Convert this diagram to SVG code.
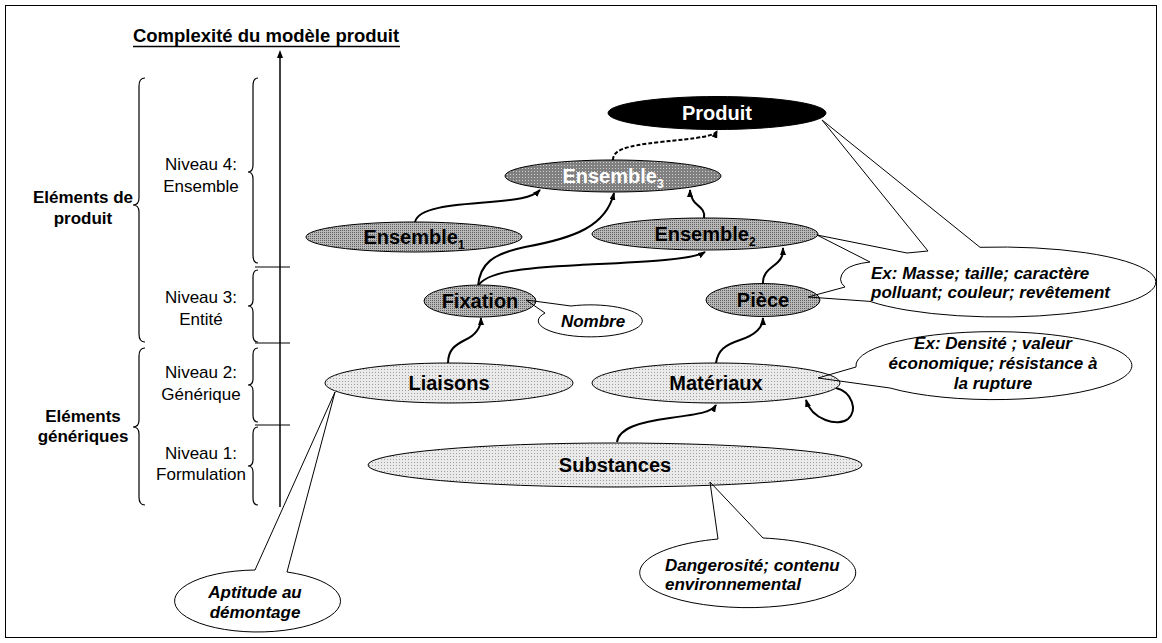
<svg xmlns="http://www.w3.org/2000/svg" width="1162" height="643" viewBox="0 0 1162 643">
<defs>
<style>
.t{font-family:"Liberation Sans",Arial,sans-serif;font-size:17px;text-anchor:middle;fill:#000}
.b{font-weight:bold}
.n{font-family:"Liberation Sans",Arial,sans-serif;font-size:20px;font-weight:bold;text-anchor:middle;fill:#000}
.w{fill:#fff}
.c{font-family:"Liberation Sans",Arial,sans-serif;font-size:17px;font-weight:bold;font-style:italic;fill:#000}
.brace{fill:none;stroke:#000;stroke-width:1.2}
.tick{stroke:#000;stroke-width:1.2}
.node{stroke:#000;stroke-width:1}
.conn{fill:none;stroke:#000;stroke-width:2;marker-end:url(#ah)}
.dash{stroke-dasharray:4 2}
.call{fill:none;stroke:#000;stroke-width:1;stroke-linejoin:round}
</style>
<marker id="ah" viewBox="0 0 8 6" refX="7" refY="3" markerWidth="8" markerHeight="6" markerUnits="userSpaceOnUse" orient="auto">
<path d="M0,0 L8,3 L0,6 Z" fill="#000"/>
</marker>
<pattern id="pMid" width="2" height="2" patternUnits="userSpaceOnUse"><rect width="2" height="2" fill="#b8b8b8"/><rect width="1" height="1" fill="#606060"/></pattern>
<pattern id="pDark" width="3" height="3" patternUnits="userSpaceOnUse"><rect width="3" height="3" fill="#808080"/><rect width="1" height="1" fill="#d0d0d0"/></pattern>
<pattern id="pLight" width="3" height="3" patternUnits="userSpaceOnUse"><rect width="3" height="3" fill="#eaeaea"/><rect width="1" height="1" fill="#a0a0a0"/></pattern>
</defs>
<rect x="5.5" y="5.5" width="1151" height="632" fill="#fff" stroke="#000" stroke-width="1"/>

<g id="axis">
<text class="t b" x="266" y="42" style="font-size:18.5px">Complexité du modèle produit</text>
<line x1="133" y1="46.5" x2="400" y2="46.5" stroke="#000" stroke-width="1.5"/>
<line x1="280" y1="56" x2="280" y2="507" stroke="#000" stroke-width="1.5"/>
<path d="M280,50 L283,58 L277,58 Z" fill="#000"/>
<line class="tick" x1="255" y1="267" x2="290" y2="267"/>
<line class="tick" x1="255" y1="343" x2="290" y2="343"/>
<line class="tick" x1="255" y1="425" x2="290" y2="425"/>
</g>

<g id="levels">
<path class="brace" d="M258,78 Q253,78 253,86 L253,165 Q253,172 248,172 Q253,172 253,179 L253,255 Q253,263 258,263"/>
<path class="brace" d="M258,270 Q253,270 253,277 L253,300 Q253,306 248,306 Q253,306 253,312 L253,335 Q253,342 258,342"/>
<path class="brace" d="M258,348 Q253,348 253,355 L253,379 Q253,385 248,385 Q253,385 253,391 L253,415 Q253,422 258,422"/>
<path class="brace" d="M258,427 Q253,427 253,434 L253,460 Q253,466 248,466 Q253,466 253,472 L253,498 Q253,505 258,505"/>
<path class="brace" d="M145,78 Q139,78 139,86 L139,198 Q139,205 133,205 Q139,205 139,212 L139,334 Q139,342 145,342"/>
<path class="brace" d="M145,348 Q139,348 139,356 L139,420 Q139,427 133,427 Q139,427 139,434 L139,497 Q139,505 145,505"/>
<text class="t" x="201" y="170">Niveau 4:</text>
<text class="t" x="201" y="192">Ensemble</text>
<text class="t" x="201" y="303">Niveau 3:</text>
<text class="t" x="201" y="325">Entité</text>
<text class="t" x="201" y="378">Niveau 2:</text>
<text class="t" x="201" y="400">Générique</text>
<text class="t" x="201" y="459">Niveau 1:</text>
<text class="t" x="201" y="480">Formulation</text>
<text class="t b" x="83" y="203">Eléments de</text>
<text class="t b" x="83" y="224">produit</text>
<text class="t b" x="83" y="422">Eléments</text>
<text class="t b" x="83" y="442">génériques</text>
</g>

<g id="connectors">
<path class="conn" d="M415,222 C418,208 450,205 490,202 C515,200 532,198 540,190"/>
<path class="conn" d="M478,286 C480,264 492,254 525,247 C575,238 606,226 614,193"/>
<path class="conn" d="M478,286 C486,272 520,268 580,265 C640,262 692,260 705,252"/>
<path class="conn" d="M704,218 C706,208 696,206 693,200 C691,196 690,194 690,190"/>
<path class="conn dash" d="M613,160 C613,150 625,146 660,142 C700,138 715,136 717,131"/>
<path class="conn" d="M763,284 C762,272 772,268 778,262 C782,258 783,255 783,248"/>
<path class="conn" d="M448,363 C448,350 455,345 465,340 C478,334 481,326 481,318"/>
<path class="conn" d="M716,363 C718,350 725,345 740,340 C758,334 763,326 763,318"/>
<path class="conn" d="M617,442 C619,428 640,422 670,418 C700,414 712,412 716,405"/>
<path class="conn" d="M836,388 C852,392 858,410 848,419 C838,427 812,420 806,400"/>
</g>

<g id="produit">
<ellipse class="node" cx="717" cy="113" rx="109" ry="16.5" fill="#000"/>
<text class="n w" x="717" y="120">Produit</text>
</g>
<g id="ensemble3">
<ellipse class="node" cx="613" cy="176" rx="108" ry="16" fill="url(#pDark)"/>
<text class="n w" x="613" y="183">Ensemble<tspan font-size="12" dy="5">3</tspan></text>
</g>
<g id="ensemble1">
<ellipse class="node" cx="414" cy="237" rx="108" ry="15" fill="url(#pMid)"/>
<text class="n" x="414" y="244">Ensemble<tspan font-size="12" dy="5">1</tspan></text>
</g>
<g id="ensemble2">
<ellipse class="node" cx="705" cy="234" rx="113" ry="16" fill="url(#pMid)"/>
<text class="n" x="705" y="241">Ensemble<tspan font-size="12" dy="5">2</tspan></text>
</g>
<g id="fixation">
<ellipse class="node" cx="480" cy="301" rx="56" ry="16" fill="url(#pMid)"/>
<text class="n" x="480" y="308">Fixation</text>
</g>
<g id="piece">
<ellipse class="node" cx="763" cy="300" rx="57" ry="16.5" fill="url(#pMid)"/>
<text class="n" x="763" y="307">Pièce</text>
</g>
<g id="liaisons">
<ellipse class="node" cx="449" cy="383" rx="124" ry="20" fill="url(#pLight)"/>
<text class="n" x="449" y="390">Liaisons</text>
</g>
<g id="materiaux">
<ellipse class="node" cx="716" cy="383" rx="124" ry="20" fill="url(#pLight)"/>
<text class="n" x="716" y="390">Matériaux</text>
</g>
<g id="substances">
<ellipse class="node" cx="615" cy="465" rx="247" ry="22" fill="url(#pLight)"/>
<text class="n" x="615" y="472">Substances</text>
</g>

<g id="callout-nombre">
<path class="call" d="M571,306 A52,16 0 1,1 545,313 L526,300 Z" fill="#fff"/>
<text class="c" x="593" y="327" text-anchor="middle">Nombre</text>
</g>
<g id="callout-proprietes">
<path class="call" d="M980,247.3 A156,35 0 1,1 870,301.4 L808,297 L845,287 Q836,280 845,270 Q852,264 870,262 L817,235 L907,253 L928,251 L822,120 Z"/>
<text class="c" x="871" y="279">Ex: Masse; taille; caractère</text>
<text class="c" x="871" y="298">polluant; couleur; revêtement</text>
</g>
<g id="callout-materiaux">
<path class="call" d="M856,367 A138,34 0 1,1 890,388 L818,378 Z"/>
<text class="c" x="993" y="349" text-anchor="middle">Ex: Densité ; valeur</text>
<text class="c" x="993" y="369" text-anchor="middle">économique; résistance à</text>
<text class="c" x="993" y="389" text-anchor="middle">la rupture</text>
</g>
<g id="callout-liaisons">
<path class="call" d="M287,572 A83,31 0 1,1 255,570 L335,392 Z"/>
<text class="c" x="255" y="598" text-anchor="middle">Aptitude au</text>
<text class="c" x="255" y="618" text-anchor="middle">démontage</text>
</g>
<g id="callout-substances">
<path class="call" d="M763,538 A108,35 0 1,1 718,539 L710,482 Z"/>
<text class="c" x="665" y="571">Dangerosité; contenu</text>
<text class="c" x="665" y="590">environnemental</text>
</g>
</svg>
